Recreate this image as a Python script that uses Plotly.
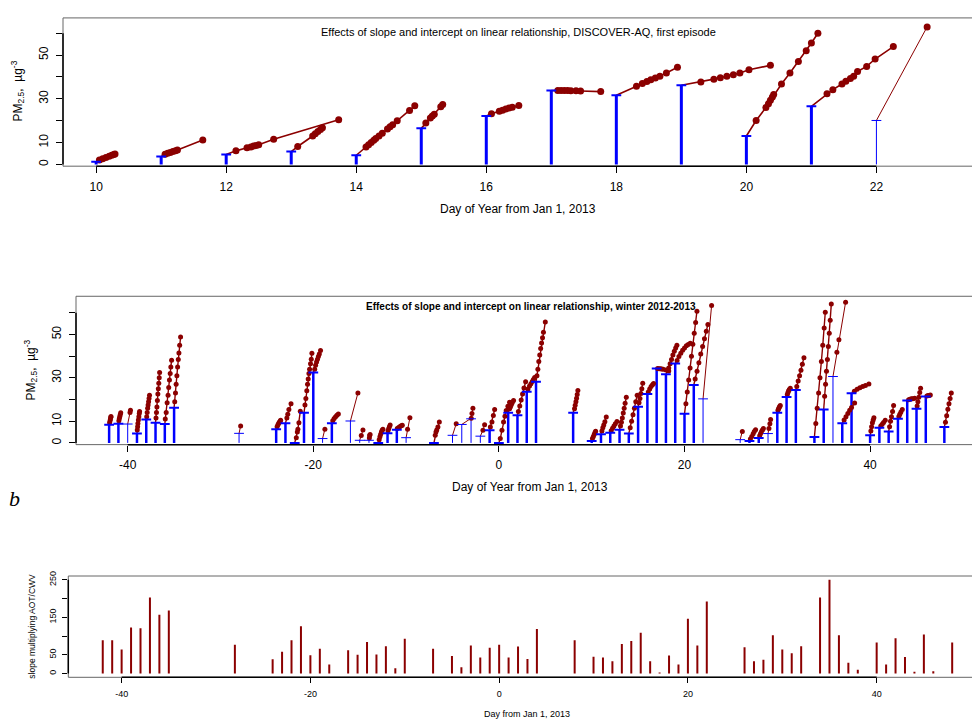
import plotly.graph_objects as go

# ---- DISCOVER-AQ first episode (top panel) ----
top_days = [10, 11, 12, 13, 14, 15, 16, 17, 18, 19, 20, 21, 22]
top_icpt = [1.2, 3.6, 4.5, 5.9, 4.2, 16.5, 22.1, 33.8, 31.6, 36.2, 13.0, 26.6, 20.1]
top_x = [
    [10.05, 10.1, 10.15, 10.2, 10.24, 10.27, 10.29],
    [11.06, 11.1, 11.14, 11.18, 11.22, 11.25, 11.64],
    [12.15, 12.32, 12.38, 12.42, 12.46, 12.5, 12.73, 13.73],
    [13.1, 13.33, 13.37, 13.41, 13.45, 13.48],
    [14.15, 14.19, 14.23, 14.27, 14.3, 14.35, 14.4, 14.48, 14.52, 14.56, 14.63, 14.82, 14.9],
    [15.07, 15.14, 15.17, 15.2, 15.3, 15.33],
    [16.08, 16.2, 16.25, 16.3, 16.35, 16.4, 16.5],
    [17.1, 17.15, 17.2, 17.25, 17.3, 17.38, 17.45, 17.76],
    [18.31, 18.4, 18.47, 18.53, 18.6, 18.67, 18.77, 18.94],
    [19.3, 19.5, 19.6, 19.7, 19.8, 19.9, 20.04, 20.37],
    [20.15, 20.3, 20.34, 20.37, 20.4, 20.42, 20.54, 20.67, 20.8, 20.92, 21.0, 21.1],
    [21.24, 21.33, 21.47, 21.53, 21.6, 21.65, 21.71, 21.85, 21.98, 22.26],
    [22.78],
]
top_y = [
    [2.0, 2.6, 3.2, 3.7, 4.2, 4.5, 4.8],
    [4.6, 5.1, 5.5, 5.9, 6.3, 6.6, 11.2],
    [6.2, 7.6, 8.0, 8.4, 8.7, 9.0, 11.5, 20.4],
    [8.2, 13.0, 14.0, 15.0, 16.0, 16.8],
    [8.0, 9.0, 10.0, 11.0, 11.8, 13.0, 14.2, 16.2, 17.2, 18.2, 20.0, 24.7, 26.8],
    [18.9, 21.2, 22.2, 23.0, 26.4, 27.4],
    [23.2, 24.3, 24.8, 25.3, 25.8, 26.1, 27.0],
    [33.8, 33.8, 33.8, 33.8, 33.7, 33.7, 33.6, 33.3],
    [35.7, 37.0, 37.9, 38.7, 39.5, 40.3, 41.8, 44.4],
    [37.7, 39.0, 39.6, 40.3, 41.0, 41.8, 43.3, 45.3],
    [20.1, 26.0, 27.8, 29.3, 30.8, 32.0, 36.8, 41.8, 47.1, 52.0, 55.5, 60.0],
    [32.3, 34.2, 36.8, 38.0, 39.3, 40.3, 42.5, 44.8, 48.2, 53.9],
    [62.9],
]

# ---- winter 2012-2013 (middle panel) ----
mid_days = [-42, -41, -40, -39, -38, -37, -36, -35, -28, -24, -23, -22, -21, -20, -19, -18,
            -16, -15, -14, -13, -12, -11, -10, -7, -5, -4, -3, -2, -1, 0, 1, 2, 3, 4, 8,
            10, 11, 12, 13, 14, 15, 16, 17, 18, 19, 20, 21, 22, 26, 27, 28, 29, 30, 31, 32,
            34, 35, 36, 37, 38, 40, 41, 42, 43, 44, 45, 46, 48]
mid_icpt = [8.4, 8.8, 8.7, 4.3, 10.8, 9.3, 8.7, 16.2, 4.4, 6.3, 9.1, 0.0, 13.9, 32.5, 2.0, 9.1,
            10.1, 1.2, 1.2, 0.0, 4.4, 6.1, 2.4, 0.0, 3.5, 8.5, 11.1, 3.1, 5.8, 0.0, 13.9, 12.7, 23.6, 28.2, 13.9,
            0.9, 4.0, 4.7, 6.1, 4.3, 16.7, 22.6, 34.3, 31.7, 36.6, 13.4, 26.7, 20.3, 1.5, 0.9, 2.3, 4.3, 13.9, 21.2, 24.4,
            2.7, 15.4, 30.6, 9.1, 22.9, 3.5, 7.0, 5.3, 11.1, 19.5, 15.7, 21.4, 7.3]
mid_x = [
    [-41.95, -41.9, -41.86, -41.82, -41.8],
    [-40.95, -40.9, -40.85, -40.8, -40.75],
    [-39.75, -39.7],
    [-38.97, -38.93, -38.9, -38.85, -38.8, -38.75, -38.72],
    [-37.95, -37.9, -37.85, -37.8, -37.75, -37.7, -37.65],
    [-36.95, -36.9, -36.85, -36.8, -36.75, -36.7, -36.65, -36.6, -36.56],
    [-35.95, -35.85, -35.75, -35.65, -35.58, -35.5, -35.42, -35.35, -35.27],
    [-34.93, -34.85, -34.78, -34.7, -34.62, -34.55, -34.48, -34.4, -34.3],
    [-27.83],
    [-23.9, -23.82, -23.74, -23.66, -23.58, -23.52],
    [-22.85, -22.75, -22.63, -22.4],
    [-21.83, -21.72, -21.66, -21.55, -21.4],
    [-20.9, -20.8, -20.7, -20.62, -20.55, -20.47, -20.4, -20.3, -20.22, -20.15],
    [-19.85, -19.75, -19.65, -19.55, -19.45, -19.35, -19.22],
    [-18.75],
    [-17.9, -17.75, -17.6, -17.45, -17.3],
    [-15.19],
    [-14.83, -14.65],
    [-13.96, -13.93, -13.88],
    [-12.9, -12.82, -12.74, -12.66, -12.58, -12.5],
    [-11.95, -11.88, -11.8, -11.72],
    [-10.95, -10.8, -10.65, -10.52, -10.41],
    [-9.84, -9.59],
    [-6.86, -6.78, -6.7, -6.57, -6.42],
    [-4.6],
    [-2.98],
    [-2.9, -2.8],
    [-1.72, -1.54],
    [-0.92, -0.75, -0.6, -0.46],
    [0.15, 0.33, 0.5, 0.65, 0.79, 0.97, 1.15],
    [1.15, 1.25, 1.35, 1.45, 1.58],
    [2.1, 2.25, 2.4, 2.55, 2.7, 2.88],
    [3.13, 3.3, 3.45, 3.6, 3.72, 3.85],
    [4.1, 4.2, 4.3, 4.4, 4.5, 4.6, 4.7, 4.8, 5.0],
    [8.15, 8.22, 8.3, 8.37, 8.44, 8.51],
    [10.08, 10.18, 10.28, 10.36, 10.42],
    [11.1, 11.2, 11.3, 11.42, 11.57],
    [12.1, 12.25, 12.4, 12.55, 12.72],
    [13.1, 13.2, 13.3, 13.4, 13.5, 13.6, 13.73],
    [14.15, 14.3, 14.45, 14.6, 14.75, 14.9],
    [15.1, 15.2, 15.3, 15.4, 15.5],
    [16.1, 16.25, 16.4, 16.55, 16.67],
    [17.1, 17.25, 17.4, 17.55, 17.7, 18.0, 18.3],
    [18.3, 18.45, 18.6, 18.75, 18.9, 19.05, 19.18],
    [19.2, 19.4, 19.6, 19.8, 20.0, 20.2, 20.4, 20.62],
    [20.15, 20.3, 20.45, 20.6, 20.75, 20.9, 21.05, 21.2, 21.34],
    [21.15, 21.35, 21.55, 21.75, 21.95, 22.15, 22.35, 22.52],
    [22.92],
    [26.23],
    [27.1, 27.25, 27.4, 27.52, 27.66],
    [28.1, 28.2, 28.3, 28.4, 28.5],
    [29.1, 29.2, 29.28],
    [30.07, 30.14, 30.2, 30.26, 30.32],
    [31.08, 31.15, 31.22, 31.3, 31.4],
    [32.1, 32.25, 32.4, 32.55, 32.7, 32.87],
    [34.15, 34.3, 34.45, 34.6, 34.75, 34.9, 35.05, 35.17],
    [35.1, 35.2, 35.3, 35.4, 35.5, 35.6, 35.7, 35.82],
    [36.42, 36.64, 37.36],
    [37.2, 37.4, 37.6, 37.8, 38.0, 38.33],
    [38.3, 38.6, 38.9, 39.2, 39.5, 39.87],
    [40.08, 40.16, 40.25, 40.33, 40.41],
    [41.15, 41.3, 41.45, 41.63],
    [42.1, 42.2, 42.3, 42.42, 42.53],
    [43.1, 43.2, 43.32, 43.47],
    [44.15, 44.3, 44.45, 44.6, 44.8],
    [45.07, 45.15, 45.25, 45.35, 45.44],
    [46.12, 46.25, 46.37, 46.49],
    [48.12, 48.25, 48.38, 48.5, 48.62, 48.75],
]
mid_y = [
    [9.3, 10.2, 11.0, 11.8, 12.2],
    [10.2, 11.2, 12.2, 13.1, 13.9],
    [14.0, 15.0],
    [5.9, 7.5, 9.0, 10.5, 12.0, 13.5, 14.5],
    [12.0, 14.0, 16.0, 17.5, 19.0, 20.5, 22.0],
    [11.5, 14.0, 16.5, 19.5, 22.5, 25.0, 27.5, 30.0, 32.5],
    [11.0, 14.0, 18.5, 22.0, 25.5, 29.0, 32.0, 35.0, 38.1],
    [19.0, 23.0, 27.0, 31.0, 35.0, 38.5, 41.5, 45.0, 48.8],
    [7.8],
    [7.4, 8.2, 8.9, 9.5, 10.0, 10.4],
    [11.5, 13.2, 15.4, 18.0],
    [2.4, 5.0, 6.3, 9.3, 14.6],
    [17.5, 20.5, 24.0, 27.0, 29.5, 32.0, 34.0, 36.5, 38.6, 41.3],
    [34.0, 35.8, 37.3, 38.6, 39.8, 41.0, 42.6],
    [6.3],
    [10.2, 11.2, 12.0, 12.7, 13.3],
    [23.0],
    [3.4, 5.9],
    [2.3, 3.4, 3.9],
    [1.5, 2.8, 4.0, 5.0, 5.8, 6.3],
    [5.6, 6.5, 7.4, 8.3],
    [6.6, 7.1, 7.6, 7.9, 8.1],
    [6.3, 11.6],
    [3.5, 5.0, 6.0, 7.3, 9.6],
    [8.8],
    [11.4],
    [13.5, 16.0],
    [5.8, 8.4],
    [7.3, 9.6, 12.6, 15.4],
    [2.0, 5.8, 9.6, 12.3, 14.9, 16.9, 18.7],
    [15.7, 16.7, 17.7, 18.6, 19.5],
    [14.5, 17.0, 19.8, 22.5, 25.3, 28.2],
    [24.8, 26.2, 27.3, 28.3, 29.2, 30.2],
    [31.0, 34.0, 37.5, 40.5, 43.5, 46.0, 48.5, 51.0, 55.7],
    [15.7, 17.3, 19.0, 20.6, 22.3, 24.1],
    [2.0, 3.0, 4.0, 4.8, 5.4],
    [5.5, 7.0, 8.3, 9.8, 11.9],
    [5.6, 6.7, 7.8, 8.8, 9.9],
    [7.8, 9.5, 11.5, 13.8, 16.0, 18.3, 21.0],
    [7.0, 10.0, 13.0, 16.0, 19.0, 22.0],
    [18.5, 20.5, 22.8, 25.0, 27.5],
    [23.5, 24.8, 26.0, 26.8, 27.4],
    [34.3, 34.2, 34.2, 34.1, 34.0, 33.6, 33.2],
    [34.5, 36.5, 38.5, 40.5, 42.3, 43.8, 45.0],
    [38.0, 39.8, 41.3, 42.7, 43.8, 44.8, 45.4, 45.9],
    [18.0, 23.5, 29.0, 34.5, 40.0, 45.5, 50.5, 55.5, 60.7],
    [29.5, 33.0, 37.0, 41.0, 44.5, 48.0, 51.5, 54.6],
    [63.3],
    [5.3],
    [1.8, 3.0, 4.2, 5.2, 6.1],
    [3.3, 4.3, 5.2, 6.0, 6.6],
    [6.6, 8.8, 10.8],
    [15.0, 15.7, 16.3, 16.8, 17.2],
    [22.3, 23.2, 24.0, 24.6, 25.2],
    [26.0, 28.5, 31.0, 33.5, 36.3, 39.3],
    [9.0, 16.0, 23.0, 30.0, 37.5, 45.0, 53.0, 60.2],
    [21.5, 27.0, 33.0, 38.5, 44.5, 50.5, 56.5, 64.0],
    [41.8, 47.5, 64.8],
    [10.5, 12.0, 13.5, 15.0, 16.3, 18.4],
    [23.8, 24.7, 25.4, 26.0, 26.5, 27.1],
    [5.5, 7.5, 9.3, 10.6, 11.6],
    [7.8, 8.6, 9.4, 10.4],
    [7.5, 10.0, 12.0, 14.5, 17.2],
    [12.2, 13.2, 14.2, 15.4],
    [19.9, 20.1, 20.3, 20.4, 20.6],
    [17.0, 19.0, 21.0, 23.2, 25.2],
    [21.6, 21.8, 21.9, 22.1],
    [9.5, 12.5, 15.5, 18.0, 20.5, 23.0],
]

# ---- slope multiplying AOT/CWV (bottom panel) ----
slope_days = mid_days
slope_vals = [89, 89, 64, 123, 121, 203, 157, 168, 77, 38, 58, 89, 126, 49, 66, 24,
              62, 50, 84, 51, 73, 14, 93, 66, 47, 17, 75, 43, 69, 77, 43, 72, 39, 119, 89,
              45, 43, 33, 79, 87, 109, 33, 3, 48, 24, 146, 75, 192, 70, 33, 37, 102, 64, 54, 73,
              203, 250, 102, 29, 10, 83, 24, 94, 44, 5, 104, 6, 83]

# axis ticks: labelled ones and the unlabelled ones in between
pm_labelled = [0, 10, 30, 50]
pm_between = [20, 40, 60]
sl_labelled = [0, 50, 150, 250]
sl_between = [100, 200]

W, H = 972, 721
RED = "#8B0000"
BLUE = "#0000FF"
FONT = "Liberation Sans, Arial, sans-serif"


def px(v):
    return v / W


def py(v):
    return 1 - v / H


fig = go.Figure()


def add_fits(days, icpt, xs, ys, xa, ya, msize, wthick, wthin, bthick):
    # few observations -> thin stem / thin line
    for thin in (False, True):
        sx, sy, lx, ly = [], [], [], []
        for d, b, xx, yy in zip(days, icpt, xs, ys):
            if (len(xx) <= 3) != thin:
                continue
            sx += [d, d, None]
            sy += [0, b, None]
            lx += [d] + xx + [None]
            ly += [b] + yy + [None]
        fig.add_trace(go.Scatter(x=sx, y=sy, mode="lines", xaxis=xa, yaxis=ya,
                                 line=dict(color=BLUE, width=1 if thin else bthick)))
        fig.add_trace(go.Scatter(x=lx, y=ly, mode="lines", xaxis=xa, yaxis=ya,
                                 line=dict(color=RED, width=wthin if thin else wthick)))
    mx = [v for xx in xs for v in xx]
    my = [v for yy in ys for v in yy]
    fig.add_trace(go.Scatter(x=mx, y=my, mode="markers", xaxis=xa, yaxis=ya,
                             marker=dict(color=RED, size=msize, line=dict(width=0))))
    for thin in (False, True):
        cx = [d for d, xx in zip(days, xs) if (len(xx) <= 3) == thin]
        cy = [b for b, xx in zip(icpt, xs) if (len(xx) <= 3) == thin]
        fig.add_trace(go.Scatter(x=cx, y=cy, mode="markers", xaxis=xa, yaxis=ya,
                                 marker=dict(symbol="line-ew", size=7,
                                             line=dict(color=BLUE, width=1 if thin else 2))))


add_fits(top_days, top_icpt, top_x, top_y, "x", "y", 7, 1.6, 1, 3)
add_fits(mid_days, mid_icpt, mid_x, mid_y, "x2", "y2", 5, 1.4, 1, 2.5)

bx, by = [], []
for d, v in zip(slope_days, slope_vals):
    bx += [d, d, None]
    by += [0, v, None]
fig.add_trace(go.Scatter(x=bx, y=by, mode="lines", xaxis="x3", yaxis="y3",
                         line=dict(color=RED, width=2)))


def xax(dom, rng, ticks, fs, anchor, tl=6):
    return dict(domain=dom, range=rng, tickvals=ticks, ticktext=[str(t) for t in ticks],
                ticks="outside", ticklen=tl, tickcolor="black", tickwidth=1,
                showgrid=False, zeroline=False, showline=False, anchor=anchor,
                ticklabelstandoff=3, tickfont=dict(family=FONT, size=fs, color="black"))


def yax(dom, rng, ticks, between, fs, anchor, tl=6):
    return dict(domain=dom, range=rng, tickvals=ticks, ticktext=[str(t) for t in ticks],
                ticks="outside", ticklen=tl, tickcolor="black", tickwidth=1, tickangle=-90,
                minor=dict(tickvals=between, ticks="outside", ticklen=tl, tickcolor="black",
                           tickwidth=1, showgrid=False),
                showgrid=False, zeroline=False, showline=False, anchor=anchor,
                ticklabelstandoff=3, tickfont=dict(family=FONT, size=fs, color="black"))


fig.update_layout(
    xaxis=xax([px(63), 1], [9.49, 23.47], [10, 12, 14, 16, 18, 20, 22], 12, "y"),
    yaxis=yax([py(162.3), py(13)], [-0.8, 67.0], pm_labelled, pm_between, 12, "x"),
    xaxis2=xax([px(76), 1], [-45.57, 50.98], [-40, -20, 0, 20, 40], 12, "y2"),
    yaxis2=yax([py(442.7), py(293.3)], [-0.8, 67.6], pm_labelled, pm_between, 12, "x2"),
    xaxis3=xax([px(68.3), 1], [-45.65, 50.1], [-40, -20, 0, 20, 40], 9, "y3", 5),
    yaxis3=yax([py(677), py(575)], [-10, 260], sl_labelled, sl_between, 9, "x3", 5),
)

shapes = []
for xa, ya, x0, x1, y0, y1 in [("x", "y", 10, 22, 0, 60), ("x2", "y2", -40, 40, 0, 60),
                               ("x3", "y3", -40, 40, 0, 250)]:
    xd, yd = xa + " domain", ya + " domain"
    box = dict(color="#666666", width=1)
    shapes.append(dict(type="line", xref=xd, yref=yd, x0=0, x1=1, y0=1, y1=1, line=box))
    shapes.append(dict(type="line", xref=xd, yref=yd, x0=0, x1=0, y0=0, y1=1, line=box))
    shapes.append(dict(type="line", xref=xd, yref=yd, x0=0, x1=1, y0=0, y1=0, line=box))
    axl = dict(color="black", width=1.5)
    shapes.append(dict(type="line", xref=xa, yref=yd, x0=x0, x1=x1, y0=0, y1=0, line=axl))
    shapes.append(dict(type="line", xref=xd, yref=ya, x0=0, x1=0, y0=y0, y1=y1, line=axl))


def note(text, x, y, size, angle=0, family=FONT):
    return dict(text=text, xref="paper", yref="paper", x=px(x), y=py(y), showarrow=False,
                xanchor="center", yanchor="middle", textangle=angle,
                font=dict(family=family, size=size, color="black"))


pm_title = "PM<sub>2.5</sub>,  \u00b5g<sup>-3</sup>"
annotations = [
    note("Effects of slope and intercept on linear relationship, DISCOVER-AQ, first episode", 518, 27, 11),
    note(pm_title, 18, 87, 12, -90),
    note("Day of Year from Jan 1, 2013", 518, 205, 12),
    note("<b>Effects of slope and intercept on linear relationship, winter 2012-2013</b>", 531, 304, 10),
    note(pm_title, 31, 368, 12, -90),
    note("Day of Year from Jan 1, 2013", 530, 485, 12),
    note("<i>b</i>", 14, 497, 22, 0, "Liberation Serif, Times New Roman, serif"),
    note("slope multiplying AOT/CWV", 32, 626, 8.5, -90),
    note("Day from Jan 1, 2013", 527, 714, 9),
]

fig.update_layout(width=W, height=H, margin=dict(l=0, r=0, t=0, b=0),
                  paper_bgcolor="white", plot_bgcolor="white", showlegend=False,
                  shapes=shapes, annotations=annotations)

# page body margin would shift the figure by 8px
fig.write_html("out.html", config={"displayModeBar": False},
               post_script="document.body.style.margin='0';document.body.style.overflow='hidden';")
